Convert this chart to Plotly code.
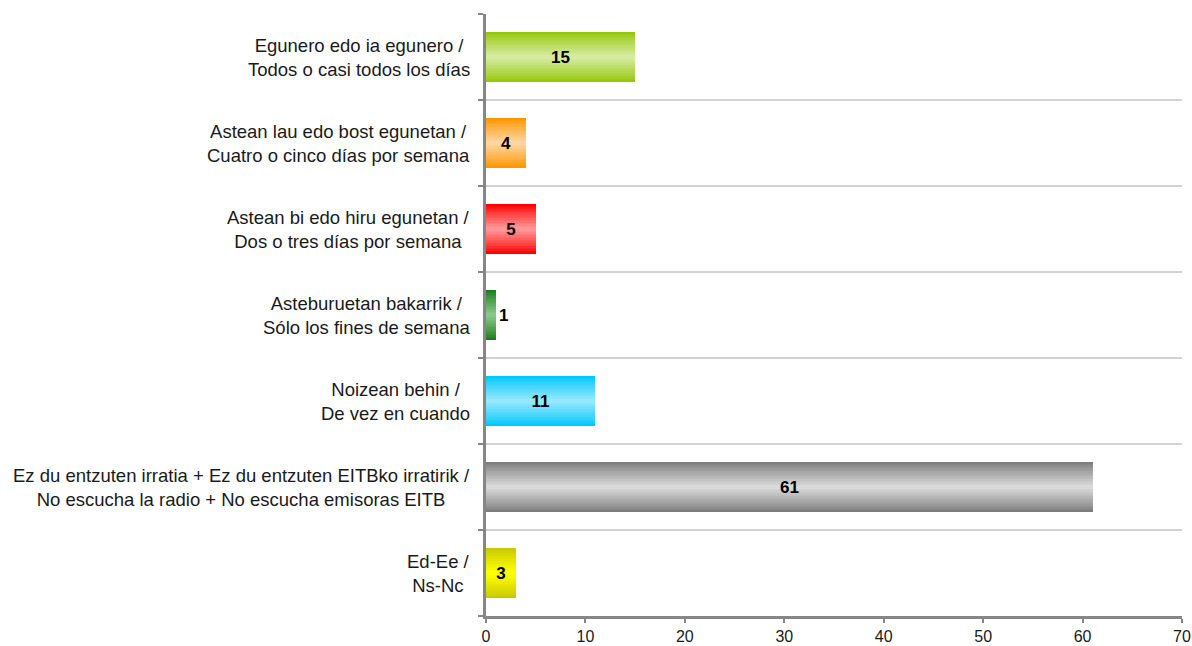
import plotly.graph_objects as go

# Frequency of listening to EITB radio stations (%)
categories = [
    "Egunero edo ia egunero /<br>Todos o casi todos los días",
    "Astean lau edo bost egunetan /<br>Cuatro o cinco días por semana",
    "Astean bi edo hiru egunetan /<br>Dos o tres días por semana",
    "Asteburuetan bakarrik /<br>Sólo los fines de semana",
    "Noizean behin /<br>De vez en cuando",
    "Ez du entzuten irratia + Ez du entzuten EITBko irratirik /<br>No escucha la radio + No escucha emisoras EITB",
    "Ed-Ee /<br>Ns-Nc",
]
values = [15, 4, 5, 1, 11, 61, 3]

# Edge (dark) and centre (light) colour of each bar's cylinder shading
edge_colors = [(150, 200, 10), (255, 150, 0), (255, 0, 0), (30, 125, 30),
               (0, 200, 250), (125, 125, 125), (200, 200, 0)]
center_colors = [(214, 235, 160), (255, 214, 160), (255, 150, 150), (135, 200, 135),
                 (150, 232, 255), (217, 217, 217), (255, 255, 0)]

FONT = "Liberation Sans, Arial, sans-serif"
BAR_W = 0.58
N_LAYERS = 16
ypos = list(range(len(categories)))


def mix(a, b, t):
    return "rgb(%d,%d,%d)" % tuple(round(a[i] + (b[i] - a[i]) * t) for i in range(3))


fig = go.Figure()

# Stack progressively narrower bars to build a vertical gradient
for k in range(N_LAYERS):
    frac = k / (N_LAYERS - 1)
    t = frac ** 0.9
    width = BAR_W * (1 - k / N_LAYERS)
    fig.add_trace(go.Bar(
        x=values, y=ypos, orientation="h", width=width,
        marker=dict(color=[mix(e, c, t) for e, c in zip(edge_colors, center_colors)],
                    line=dict(width=0)),
        hoverinfo="skip", showlegend=False,
    ))

# Transparent top layer carrying the value labels
fig.add_trace(go.Bar(
    x=values, y=ypos, orientation="h", width=BAR_W,
    marker=dict(color="rgba(0,0,0,0)", line=dict(width=0)),
    text=[str(v) for v in values],
    textposition=["outside" if v < 2 else "inside" for v in values],
    insidetextanchor="middle",
    textfont=dict(family=FONT, size=17, color="black", weight="bold"),
    constraintext="none", cliponaxis=False,
    showlegend=False,
))

# Category labels, centred as two-line blocks left of the axis
for i, c in enumerate(categories):
    fig.add_annotation(
        x=0, xref="paper", y=i, yref="y", text=c, showarrow=False,
        xanchor="right", yanchor="middle", align="center", xshift=-14,
        font=dict(family=FONT, size=18.5, color="#1a1a1a"),
    )

# Separators between category bands
for b in range(len(categories) - 1):
    fig.add_shape(type="line", xref="paper", x0=0, x1=1, yref="y", y0=b + 0.5, y1=b + 0.5,
                  line=dict(color="#a6a6a6", width=1), layer="below")

boundaries = [b - 0.5 for b in range(len(categories) + 1)]

fig.update_layout(
    width=1192, height=646,
    margin=dict(l=486, r=10, t=14, b=30),
    paper_bgcolor="white", plot_bgcolor="white",
    barmode="overlay", bargap=0,
    font=dict(family=FONT, size=16, color="#1a1a1a"),
    xaxis=dict(range=[0, 70], tickvals=list(range(0, 71, 10)), showgrid=False, zeroline=False,
               showline=True, linecolor="#868686", linewidth=2.5, automargin=False,
               ticks="outside", ticklen=4, tickwidth=2, tickcolor="#868686",
               tickfont=dict(size=16, color="#1a1a1a")),
    yaxis=dict(range=[len(categories) - 0.5, -0.5], tickvals=boundaries,
               ticktext=[""] * len(boundaries), showgrid=False, zeroline=False,
               showline=True, linecolor="#868686", linewidth=3, automargin=False,
               ticks="outside", ticklen=5, tickwidth=2, tickcolor="#868686"),
)

fig.write_html("out.html")
